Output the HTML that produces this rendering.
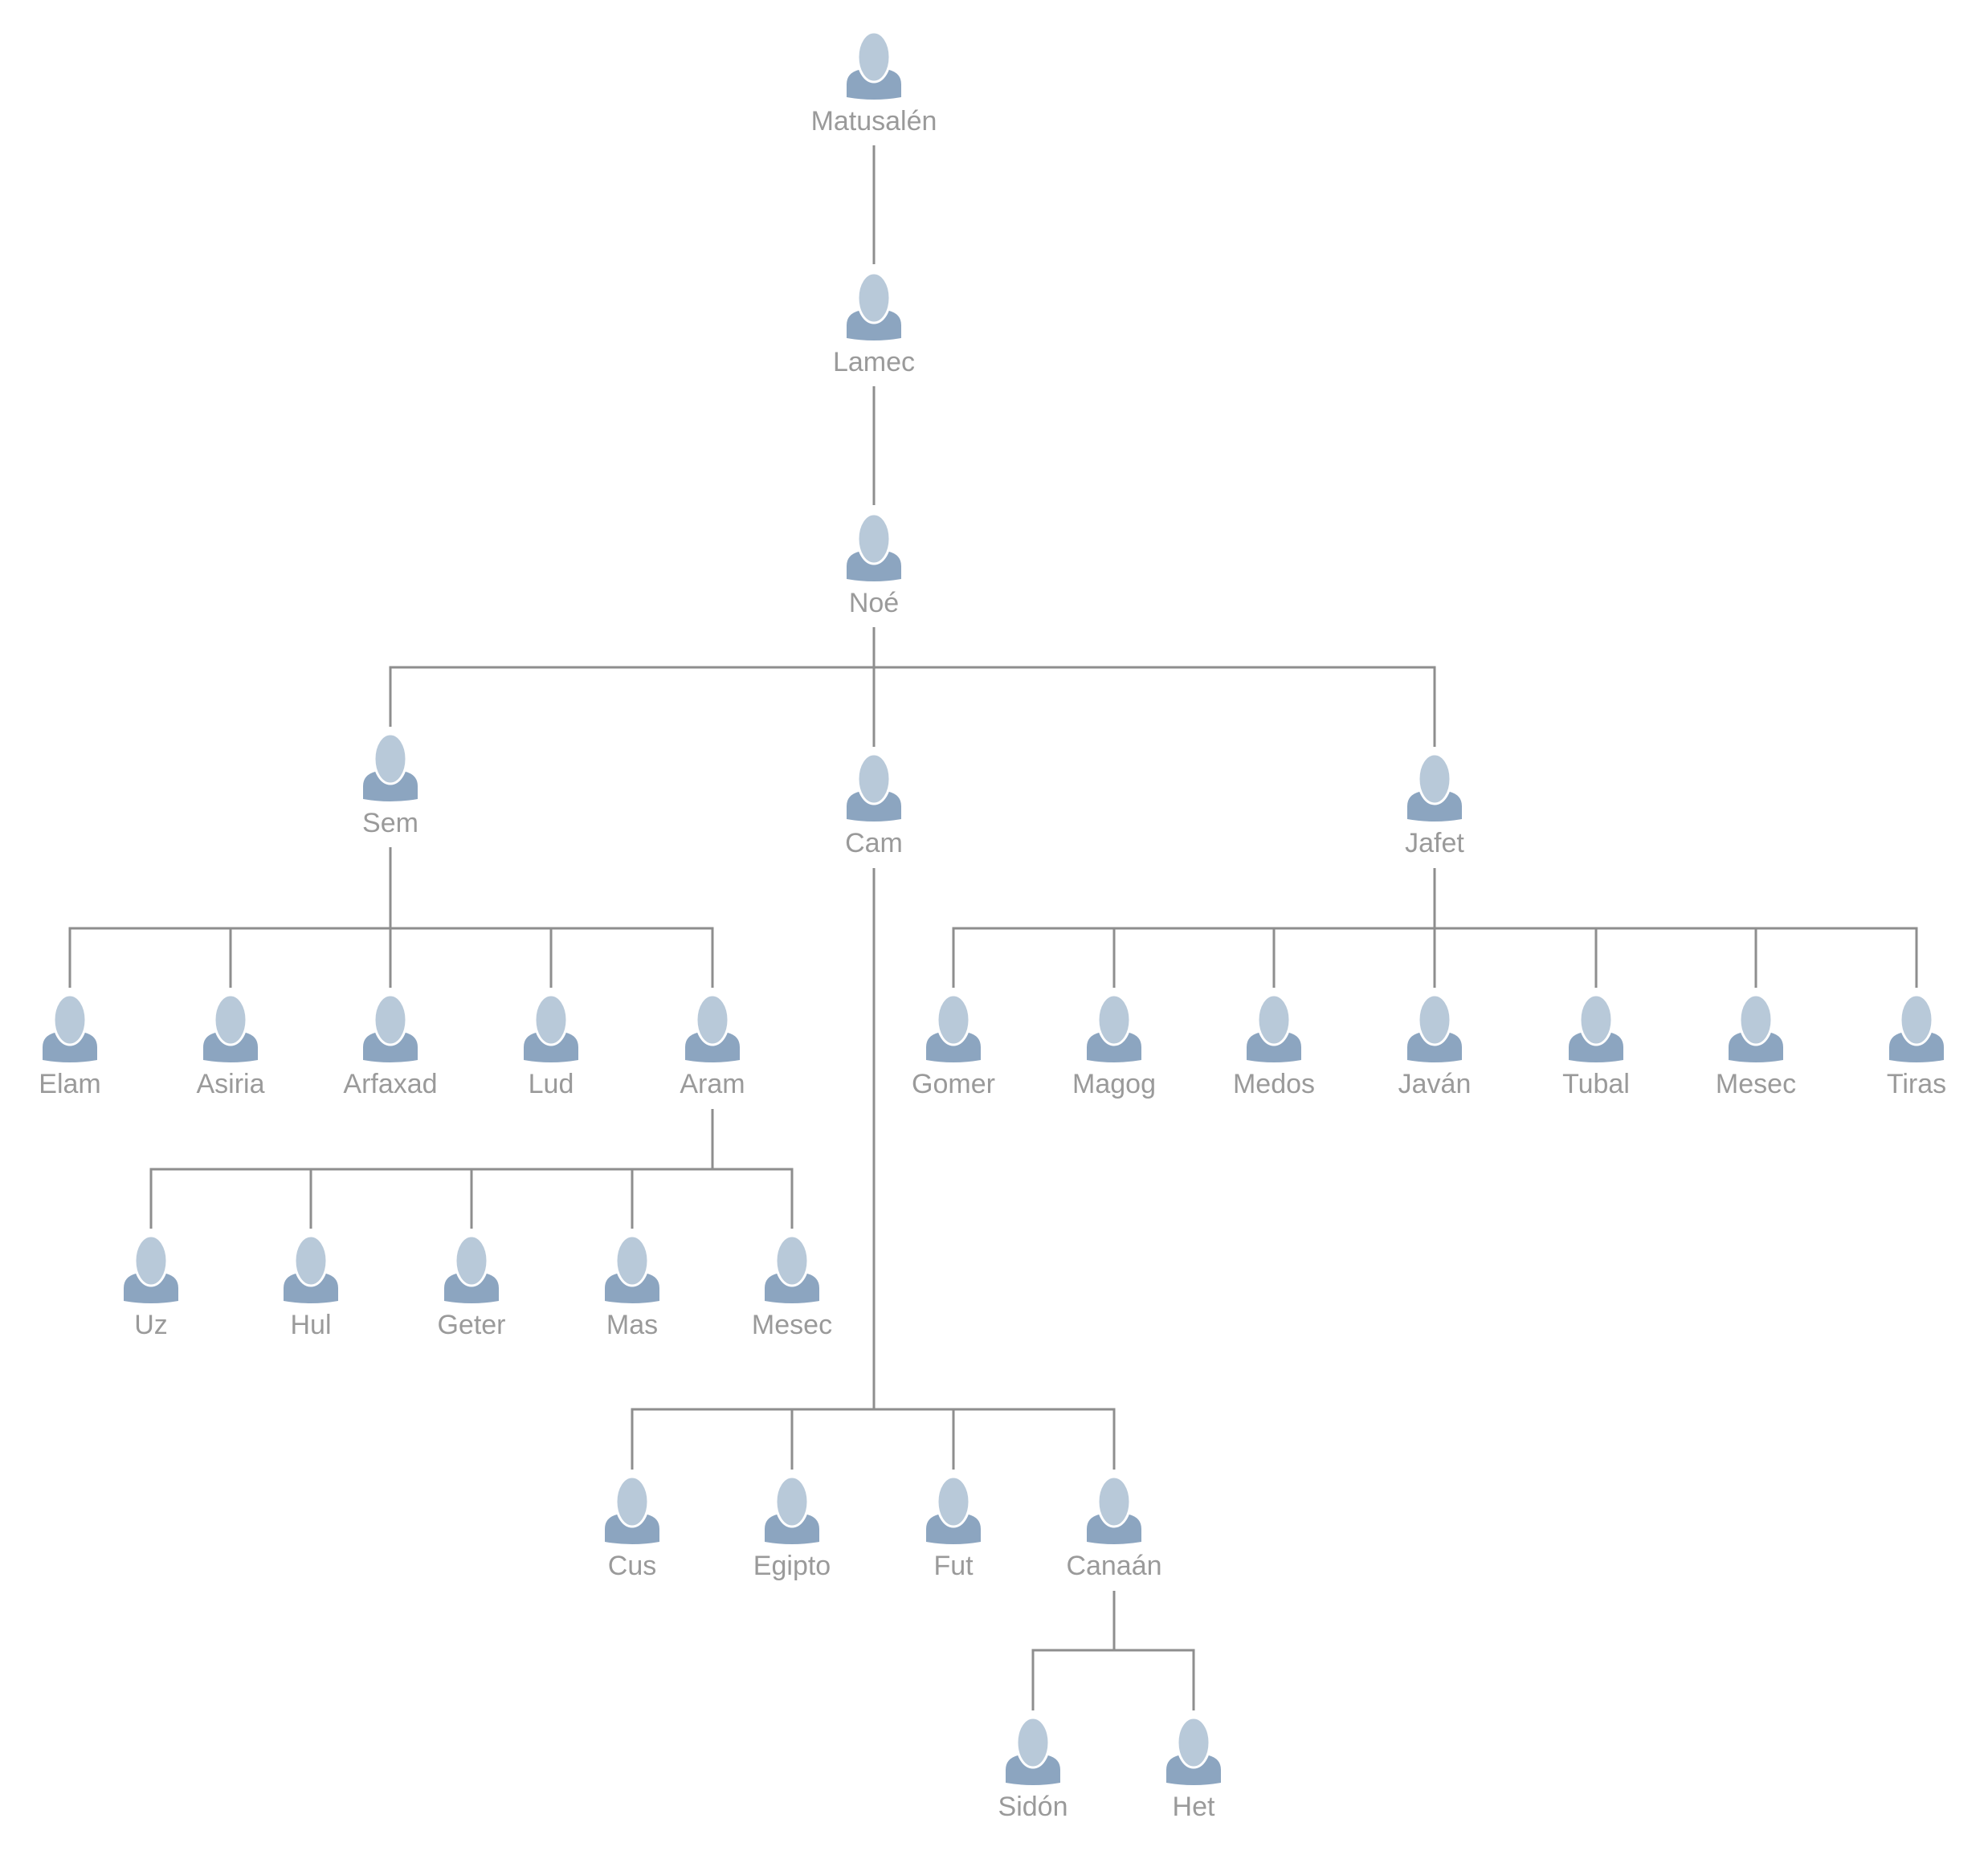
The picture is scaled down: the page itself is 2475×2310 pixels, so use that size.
<!DOCTYPE html>
<html><head><meta charset="utf-8"><style>
html,body{margin:0;padding:0;background:#fff;}
svg{display:block;}
text{font-family:"Liberation Sans",sans-serif;font-size:34px;fill:#9a9a9a;text-anchor:middle;dominant-baseline:central;}
</style></head><body>
<svg width="2475" height="2310" viewBox="0 0 2475 2310" xmlns="http://www.w3.org/2000/svg">
<defs>
<g id="p">
<path d="M-34,80 L-34,64 Q-34,50 -19,46 L19,46 Q34,50 34,64 L34,80 Q0,86 -34,80 Z" fill="#8ca5c0"/>
<ellipse cx="0" cy="30" rx="20" ry="31" fill="#b8c9d9" stroke="#fff" stroke-width="3"/>
</g>
</defs>
<g stroke="#8e8e8e" stroke-width="3" fill="none">
<line x1="1088" y1="181" x2="1088" y2="329"/>
<line x1="1088" y1="481" x2="1088" y2="629"/>
<line x1="1088" y1="781" x2="1088" y2="930"/>
<polyline points="486,905 486,831 1786,831 1786,930"/>
<line x1="486" y1="1055" x2="486" y2="1156"/>
<polyline points="87,1230 87,1156 887,1156 887,1230"/>
<line x1="287" y1="1156" x2="287" y2="1230"/>
<line x1="486" y1="1156" x2="486" y2="1230"/>
<line x1="686" y1="1156" x2="686" y2="1230"/>
<line x1="1786" y1="1081" x2="1786" y2="1156"/>
<polyline points="1187,1230 1187,1156 2386,1156 2386,1230"/>
<line x1="1387" y1="1156" x2="1387" y2="1230"/>
<line x1="1586" y1="1156" x2="1586" y2="1230"/>
<line x1="1786" y1="1156" x2="1786" y2="1230"/>
<line x1="1987" y1="1156" x2="1987" y2="1230"/>
<line x1="2186" y1="1156" x2="2186" y2="1230"/>
<line x1="887" y1="1381" x2="887" y2="1456"/>
<polyline points="188,1530 188,1456 986,1456 986,1530"/>
<line x1="387" y1="1456" x2="387" y2="1530"/>
<line x1="587" y1="1456" x2="587" y2="1530"/>
<line x1="787" y1="1456" x2="787" y2="1530"/>
<line x1="1088" y1="1081" x2="1088" y2="1755"/>
<polyline points="787,1830 787,1755 1387,1755 1387,1830"/>
<line x1="986" y1="1755" x2="986" y2="1830"/>
<line x1="1187" y1="1755" x2="1187" y2="1830"/>
<line x1="1387" y1="1981" x2="1387" y2="2055"/>
<polyline points="1286,2130 1286,2055 1486,2055 1486,2130"/>
</g>
<use href="#p" x="1088" y="41"/><text x="1088" y="151">Matusalén</text>
<use href="#p" x="1088" y="341"/><text x="1088" y="451">Lamec</text>
<use href="#p" x="1088" y="641"/><text x="1088" y="751">Noé</text>
<use href="#p" x="486" y="915"/><text x="486" y="1025">Sem</text>
<use href="#p" x="1088" y="940"/><text x="1088" y="1050">Cam</text>
<use href="#p" x="1786" y="940"/><text x="1786" y="1050">Jafet</text>
<use href="#p" x="87" y="1240"/><text x="87" y="1350">Elam</text>
<use href="#p" x="287" y="1240"/><text x="287" y="1350">Asiria</text>
<use href="#p" x="486" y="1240"/><text x="486" y="1350">Arfaxad</text>
<use href="#p" x="686" y="1240"/><text x="686" y="1350">Lud</text>
<use href="#p" x="887" y="1240"/><text x="887" y="1350">Aram</text>
<use href="#p" x="1187" y="1240"/><text x="1187" y="1350">Gomer</text>
<use href="#p" x="1387" y="1240"/><text x="1387" y="1350">Magog</text>
<use href="#p" x="1586" y="1240"/><text x="1586" y="1350">Medos</text>
<use href="#p" x="1786" y="1240"/><text x="1786" y="1350">Javán</text>
<use href="#p" x="1987" y="1240"/><text x="1987" y="1350">Tubal</text>
<use href="#p" x="2186" y="1240"/><text x="2186" y="1350">Mesec</text>
<use href="#p" x="2386" y="1240"/><text x="2386" y="1350">Tiras</text>
<use href="#p" x="188" y="1540"/><text x="188" y="1650">Uz</text>
<use href="#p" x="387" y="1540"/><text x="387" y="1650">Hul</text>
<use href="#p" x="587" y="1540"/><text x="587" y="1650">Geter</text>
<use href="#p" x="787" y="1540"/><text x="787" y="1650">Mas</text>
<use href="#p" x="986" y="1540"/><text x="986" y="1650">Mesec</text>
<use href="#p" x="787" y="1840"/><text x="787" y="1950">Cus</text>
<use href="#p" x="986" y="1840"/><text x="986" y="1950">Egipto</text>
<use href="#p" x="1187" y="1840"/><text x="1187" y="1950">Fut</text>
<use href="#p" x="1387" y="1840"/><text x="1387" y="1950">Canaán</text>
<use href="#p" x="1286" y="2140"/><text x="1286" y="2250">Sidón</text>
<use href="#p" x="1486" y="2140"/><text x="1486" y="2250">Het</text>
</svg>
</body></html>
